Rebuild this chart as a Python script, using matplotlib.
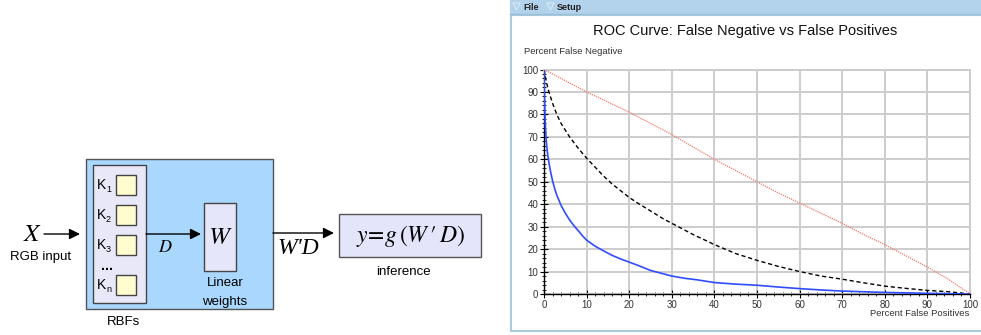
import matplotlib
matplotlib.use("Agg")
import matplotlib.pyplot as plt
from matplotlib.patches import Rectangle, Polygon
import numpy as np

plt.rcParams['mathtext.fontset'] = 'stix'
plt.rcParams['font.family'] = ['Liberation Sans', 'DejaVu Sans']

# ---------------- data (ROC curves) ----------------
red_x = [0, 5, 10, 15, 20, 25, 30, 35, 40, 45, 50, 55, 60, 65, 70, 75, 80, 85, 90, 95, 100]
red_y = [100, 95, 90, 85.5, 81, 76, 71, 65.5, 60, 55, 50, 45, 40.5, 36, 31.5, 26.5, 22, 17, 12, 6.5, 0]

black_x = [0, 0.5, 1, 2, 3, 4, 5, 6, 8, 10, 12, 14, 16, 18, 20, 22, 25, 28, 30, 35, 40, 45, 50, 55,
           60, 65, 70, 75, 80, 85, 90, 95, 100]
black_y = [100, 95, 91, 85, 80, 76, 73, 70, 65, 60.5, 56.5, 52.5, 49, 46, 43, 40.5, 37, 33.5, 31.5,
           26.5, 22, 18, 15, 12.3, 10, 8, 6.6, 5, 3.5, 2.5, 1.6, 1, 0]

blue_x = [0, 0.05, 0.15, 0.3, 0.5, 0.8, 1.2, 1.6, 2, 2.5, 3, 3.5, 4, 5, 6, 7, 8, 9, 10, 12, 14, 16,
          18, 20, 22, 25, 28, 30, 33, 36, 40, 45, 50, 55, 60, 65, 70, 80, 90, 100]
blue_y = [100, 92, 85, 76, 69, 63, 58, 54, 50.5, 47, 44, 41.8, 39.5, 36, 33, 30.5, 28.3, 26, 24,
          21.3, 19.2, 17.2, 15.6, 14.2, 12.8, 10.5, 9, 8, 7, 6.3, 5.1, 4.4, 3.9, 3.1, 2.4, 1.8, 1.3,
          0.7, 0.3, 0]

x_ticks = [0, 10, 20, 30, 40, 50, 60, 70, 80, 90, 100]
y_ticks = [0, 10, 20, 30, 40, 50, 60, 70, 80, 90, 100]

title = "ROC Curve: False Negative vs False Positives"
xlabel = "Percent False Positives"
ylabel = "Percent False Negative"

W, H = 981, 335
fig = plt.figure(figsize=(W / 100, H / 100), dpi=100)

# ---------------- background / diagram canvas (pixel coords) ----------------
bg = fig.add_axes([0, 0, 1, 1])
bg.set_xlim(0, W)
bg.set_ylim(H, 0)
bg.axis('off')

# window frame on the right
bg.add_patch(Rectangle((510, 0), 471, 14, facecolor='#b3d3ec', edgecolor='none'))
bg.plot([510, 981], [14, 14], color='#9cc0d8', lw=1)
bg.add_patch(Rectangle((511, 15), 472, 316, facecolor='white', edgecolor='#a9cadf', lw=1.5))
for tx, lab in [(513, 'File'), (547, 'Setup')]:
    bg.add_patch(Polygon([[tx, 3], [tx + 7, 3], [tx + 3.5, 10]], closed=True,
                         facecolor='none', edgecolor='#d8e8f4', lw=0.8))
    bg.text(tx + 10, 7, lab, fontsize=6.5, fontweight='bold', va='center', ha='left', color='#222222')

# diagram: outer RBF network box
bg.add_patch(Rectangle((86, 159), 187, 150, facecolor='#a9d7fd', edgecolor='#555555', lw=1))
bg.add_patch(Rectangle((93, 165), 53, 138, facecolor='#e8e8f8', edgecolor='#444444', lw=1))
for i, (yy, sub) in enumerate([(175, '1'), (205, '2'), (235, '3'), (275, 'n')]):
    bg.add_patch(Rectangle((116, yy), 20, 20, facecolor='#fffdd0', edgecolor='#444444', lw=1))
    bg.text(96.5, yy + 10, 'K', fontsize=10, ha='left', va='center')
    bg.text(106, yy + 15, sub, fontsize=6.5, ha='left', va='center')
bg.text(107, 266, '...', fontsize=10, ha='center', va='center', fontweight='bold')

# W box
bg.add_patch(Rectangle((204, 203), 32, 68, facecolor='#e6e6fa', edgecolor='#444444', lw=1))
bg.text(220, 237, '$W$', fontsize=18, ha='center', va='center')
bg.text(225, 283, 'Linear', fontsize=9.5, ha='center', va='center')
bg.text(225, 302, 'weights', fontsize=9.5, ha='center', va='center')
bg.text(123, 322, 'RBFs', fontsize=9.5, ha='center', va='center')

# inference box
bg.add_patch(Rectangle((339, 214), 142, 43, facecolor='#e4e4fa', edgecolor='#555555', lw=1))
bg.text(410, 236, r"$y\!=\!g\,(W\,\prime\,D)$", fontsize=17, ha='center', va='center')
bg.text(403, 272, 'inference', fontsize=9.5, ha='center', va='center')

# input
bg.text(33, 234, '$X$', fontsize=18, ha='center', va='center')
bg.text(41, 257, 'RGB input', fontsize=9.5, ha='center', va='center')

arrow_kw = dict(arrowstyle='-|>', mutation_scale=16, lw=1, color='black', shrinkA=0, shrinkB=0)
bg.annotate('', xy=(80, 234), xytext=(44, 234), arrowprops=arrow_kw)
bg.annotate('', xy=(201, 234), xytext=(146, 234), arrowprops=arrow_kw)
bg.annotate('', xy=(334, 233), xytext=(273, 233), arrowprops=arrow_kw)
bg.text(165, 247, '$D$', fontsize=13, ha='center', va='center')
bg.text(298, 249, "W'D", fontsize=17, ha='center', va='center', family='Liberation Serif',
        style='italic')

# ---------------- ROC chart ----------------
ax = fig.add_axes([544 / W, 1 - 294 / H, (970 - 544) / W, (294 - 69.5) / H])
ax.set_facecolor('white')
ax.plot(red_x, red_y, color='#f47a6a', lw=0.9, linestyle=(0, (1, 0.8)), zorder=3)
ax.plot(black_x, black_y, color='black', lw=1.0, linestyle=(0, (3, 2)), zorder=4)
ax.plot(blue_x, blue_y, color='#2f4dff', lw=1.2, zorder=5)

ax.set_xlim(0, 100)
ax.set_ylim(0, 100)
ax.set_xticks(x_ticks)
ax.set_yticks(y_ticks)
ax.set_xticks(np.arange(0, 101, 2), minor=True)
ax.set_yticks(np.arange(0, 101, 2), minor=True)
ax.grid(True, which='major', color='#cccccc', lw=1.4, zorder=0)
ax.set_axisbelow(True)
ax.tick_params(which='major', direction='inout', length=6, width=0.8, labelsize=7,
               labelcolor='#333333', pad=1)
ax.tick_params(which='minor', direction='inout', length=3, width=0.6)
ax.tick_params(axis='x', which='both', top=False)
ax.tick_params(axis='y', which='both', right=False)
for s in ['top', 'right']:
    ax.spines[s].set_color('#cccccc')
    ax.spines[s].set_linewidth(1.4)
for s in ['left', 'bottom']:
    ax.spines[s].set_color('black')
    ax.spines[s].set_linewidth(1)

fig.text(745 / W, 1 - 31 / H, title, fontsize=10.5, ha='center', va='center', color='#111111')
fig.text(524 / W, 1 - 52 / H, ylabel, fontsize=6.8, ha='left', va='center', color='#333333')
fig.text(969 / W, 1 - 314 / H, xlabel, fontsize=6.8, ha='right', va='center', color='#333333')

fig.savefig('out.png', dpi=100)
